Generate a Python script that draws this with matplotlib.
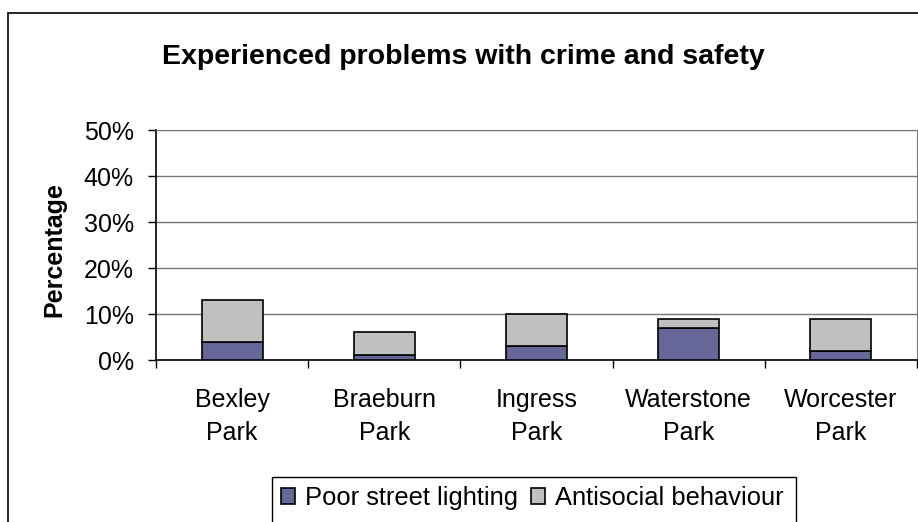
import matplotlib
matplotlib.use("Agg")
import matplotlib.pyplot as plt
from matplotlib.patches import Rectangle, Patch
import numpy as np

plt.rcParams['font.family'] = ['Liberation Sans', 'DejaVu Sans']

# Survey results (percent of respondents)
parks = ['Bexley\nPark', 'Braeburn\nPark', 'Ingress\nPark', 'Waterstone\nPark', 'Worcester\nPark']
poor_lighting = [4, 1, 3, 7, 2]
antisocial = [9, 5, 7, 2, 7]
y_ticks = [0, 10, 20, 30, 40, 50]

purple = '#666699'
grey = '#c0c0c0'

W, H = 918, 522
fig = plt.figure(figsize=(W / 100, H / 100), dpi=100)

# plot area in pixel units
left, right, top, bottom = 156, 917, 130, 360
ax = fig.add_axes([left / W, 1 - bottom / H, (right - left) / W, (bottom - top) / H])

x = np.arange(len(parks))
ax.bar(x, poor_lighting, width=0.4, color=purple, edgecolor='black', linewidth=1.2, zorder=3)
ax.bar(x, antisocial, width=0.4, bottom=poor_lighting, color=grey, edgecolor='black',
       linewidth=1.2, zorder=3)

ax.set_xlim(-0.5, len(parks) - 0.5)
ax.set_ylim(0, 50)
ax.set_yticks(y_ticks)
ax.set_yticklabels([f'{v}%' for v in y_ticks])
ax.yaxis.grid(True, color='#777777', linewidth=1.0, zorder=0)

# ticks between categories, labels in the middle
ax.set_xticks(np.arange(len(parks) + 1) - 0.5)
ax.set_xticklabels([])
ax.set_xticks(x, minor=True)
ax.set_xticklabels(parks, minor=True, linespacing=1.5)
ax.tick_params(axis='x', which='minor', length=0, pad=20, labelsize=18)
ax.tick_params(axis='x', which='major', direction='out', length=6, width=1.0)
ax.tick_params(axis='y', direction='out', length=6, width=1.0, pad=10, labelsize=18)

for side in ['top', 'right']:
    ax.spines[side].set_color('#777777')
for side in ['left', 'bottom']:
    ax.spines[side].set_color('black')
    ax.spines[side].set_linewidth(1.2)

fig.text(463 / W, 1 - 64 / H, 'Experienced problems with crime and safety',
         ha='center', va='baseline', fontsize=20.5, fontweight='bold')
fig.text(54.5 / W, 1 - 250 / H, 'Percentage', rotation=90, ha='center', va='center',
         fontsize=18, fontweight='bold')

# chart area border and legend box
fig.patches.append(Rectangle((8 / W, -0.1), 1.1, 1 - 13 / H + 0.1, transform=fig.transFigure,
                             fill=False, edgecolor='black', linewidth=1.2))
fig.patches.append(Rectangle((272 / W, -0.1), (796 - 272) / W, 1 - 477 / H + 0.1,
                             transform=fig.transFigure, fill=False, edgecolor='black',
                             linewidth=1.0))

handles = [Patch(facecolor=purple, edgecolor='black', linewidth=1.2),
           Patch(facecolor=grey, edgecolor='black', linewidth=1.2)]
fig.legend(handles, ['Poor street lighting', 'Antisocial behaviour'], ncol=2,
           loc='upper left', bbox_to_anchor=(281 / W, 1 - 486 / H), frameon=False,
           fontsize=18.4, handlelength=0.55, handleheight=0.55, handletextpad=0.4,
           columnspacing=0.5, borderpad=0, borderaxespad=0)

fig.savefig('out.png', dpi=100)
